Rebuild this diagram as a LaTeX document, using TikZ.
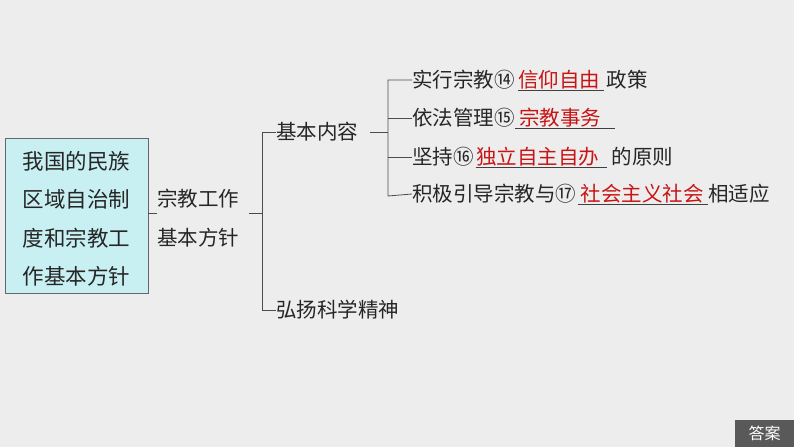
\documentclass[tikz,border=0pt]{standalone}
\usepackage{fontspec}
\setmainfont{Noto Sans CJK SC}
\begin{document}
\begin{tikzpicture}[x=1pt,y=-1pt,
  t/.style={inner sep=0pt,anchor=west,font=\fontsize{20.5}{22}\selectfont,text=black!85},
  r/.style={t,text={rgb,255:red,200;green,20;blue,20}},
  ln/.style={draw=black!70,line width=0.8pt},
  ul/.style={draw=black!75,line width=0.8pt}]
\fill[black!7] (0,0) rectangle (794,447);
\useasboundingbox (0,0) rectangle (794,447);
\node[draw=black!60,fill={rgb,255:red,200;green,240;blue,242},minimum width=143pt,minimum height=155pt,anchor=north west,inner sep=0pt] (box) at (5,138) {};
\foreach \s/\y in {我国的民族/161,区域自治制/199,度和宗教工/238,作基本方针/276}
  \node[t,anchor=center,font=\fontsize{21.5}{23}\selectfont] at (76.5,\y) {\s};
\node[t] (zj) at (157,199) {宗教工作};
\node[t] (jb) at (157,238) {基本方针};
\coordinate (c1) at (249,213);
\draw[ln] (box.east |- 0,213) -- (157,213);
\draw[ln] (c1) -- (262,213);
\node[t] (nr) at (276,132) {基本内容};
\node[t] (hy) at (276,310) {弘扬科学精神};
\draw[ln] (nr.west) -- (262,132) -- (262,310) -- (hy.west);
\coordinate (c2) at (370,132);
\draw[ln] (c2) -- (388,132);
\node[t] (a1) at (412,80) {实行宗教⑭};
\node[r] (a2) at ([xshift=3pt]a1.east) {信仰自由};
\node[t] (a3) at ([xshift=6pt]a2.east) {政策};
\node[t] (b1) at (412,118) {依法管理⑮};
\node[r] (b2) at ([xshift=4pt]b1.east) {宗教事务};
\node[t] (c1t) at (412,157) {坚持⑯};
\node[r] (c2t) at ([xshift=2pt]c1t.east) {独立自主自办};
\node[t] (c3t) at ([xshift=12pt]c2t.east) {的原则};
\node[t] (d1) at (412,194) {积极引导宗教与⑰};
\node[r] (d2) at ([xshift=4pt]d1.east) {社会主义社会};
\node[t] (d3) at ([xshift=4pt]d2.east) {相适应};
\draw[ul] ([yshift=-1pt]a2.south west) -- ([yshift=-1pt,xshift=4pt]a2.south east);
\draw[ul] ([yshift=-1pt,xshift=-4pt]b2.south west) -- ([yshift=-1pt,xshift=14pt]b2.south east);
\draw[ul] ([yshift=-1pt]c2t.south west) -- ([yshift=-1pt,xshift=8pt]c2t.south east);
\draw[ul] ([yshift=-1pt,xshift=-2pt]d2.south west) -- ([yshift=-1pt,xshift=4pt]d2.south east);
\draw[ln] (a1.west) -- (388,80) -- (388,196) -- (d1.west);
\draw[ln] (388,118) -- (b1.west);
\draw[ln] (388,157) -- (c1t.west);
\node[fill=black!65,text=white,minimum width=59pt,minimum height=27pt,anchor=north west,inner sep=0pt,font=\fontsize{16}{18}\selectfont] (ans) at (735,420) {答案};
\end{tikzpicture}
\end{document}
